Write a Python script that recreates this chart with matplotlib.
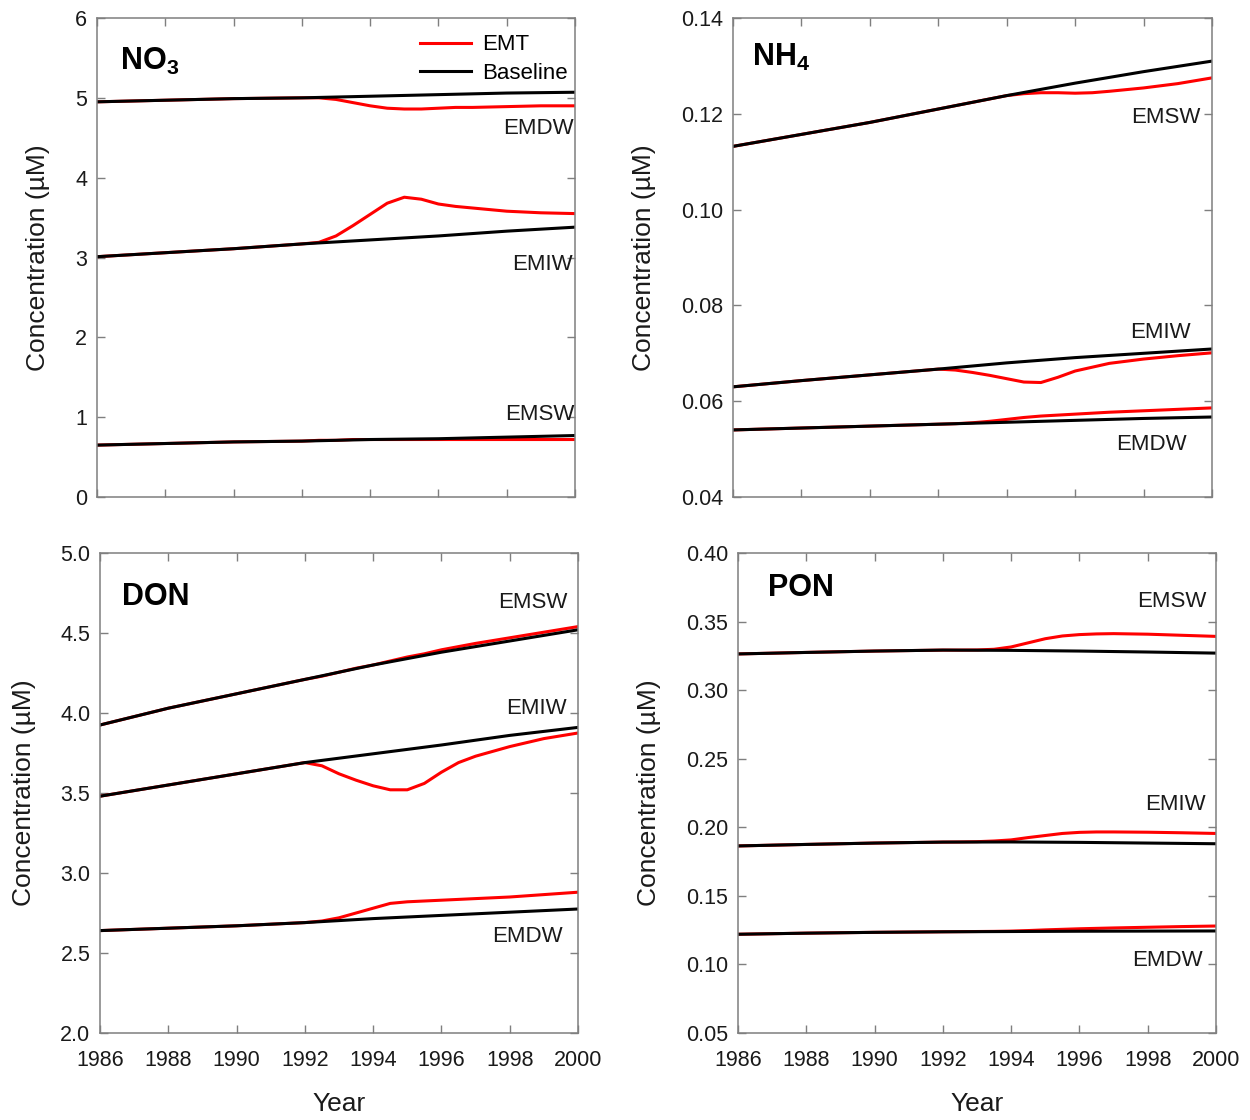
import matplotlib
matplotlib.use("Agg")
import matplotlib.pyplot as plt

plt.rcParams['font.family'] = ['Liberation Sans', 'DejaVu Sans']
plt.rcParams['mathtext.fontset'] = 'custom'
plt.rcParams['mathtext.rm'] = 'Liberation Sans'
plt.rcParams['mathtext.bf'] = 'Liberation Sans:bold'

# time axes: baseline runs sampled every 2 years, EMT runs denser around the event
yr_base = [1986, 1988, 1990, 1992, 1994, 1996, 1998, 2000]
yr_emt = [1986, 1988, 1990, 1992, 1992.5, 1993, 1993.5, 1994, 1994.5,
          1995, 1995.5, 1996, 1996.5, 1997, 1998, 1999, 2000]
water_masses = ['EMSW', 'EMIW', 'EMDW']

# NO3 (uM)
no3_base = {
    'EMSW': [0.65, 0.67, 0.69, 0.70, 0.72, 0.73, 0.75, 0.77],
    'EMIW': [3.01, 3.06, 3.11, 3.17, 3.22, 3.27, 3.33, 3.38],
    'EMDW': [4.95, 4.97, 4.99, 5.00, 5.02, 5.04, 5.06, 5.07],
}
no3_emt = {
    'EMSW': [0.65, 0.67, 0.69, 0.70, 0.71, 0.71, 0.72, 0.72, 0.72,
             0.72, 0.72, 0.72, 0.72, 0.72, 0.72, 0.72, 0.72],
    'EMIW': [3.01, 3.06, 3.11, 3.17, 3.19, 3.27, 3.40, 3.54, 3.68,
             3.755, 3.73, 3.67, 3.64, 3.62, 3.58, 3.56, 3.55],
    'EMDW': [4.95, 4.97, 4.99, 5.00, 5.00, 4.98, 4.94, 4.90, 4.87,
             4.86, 4.86, 4.87, 4.88, 4.88, 4.89, 4.90, 4.90],
}

# NH4 (uM)
nh4_base = {
    'EMSW': [0.1132, 0.1157, 0.1182, 0.1210, 0.1238, 0.1264, 0.1288, 0.1310],
    'EMIW': [0.0630, 0.0643, 0.0655, 0.0667, 0.0680, 0.0691, 0.0700, 0.0709],
    'EMDW': [0.0540, 0.0544, 0.0548, 0.0552, 0.0556, 0.0560, 0.0564, 0.0567],
}
nh4_emt = {
    'EMSW': [0.1132, 0.1157, 0.1182, 0.1210, 0.1217, 0.1224, 0.1231, 0.1238, 0.1242,
             0.1244, 0.1244, 0.1243, 0.1244, 0.1247, 0.1254, 0.1263, 0.1275],
    'EMIW': [0.0630, 0.0643, 0.0655, 0.0667, 0.0665, 0.0660, 0.0654, 0.0647, 0.0640,
             0.0639, 0.0650, 0.0663, 0.0671, 0.0679, 0.0688, 0.0695, 0.0701],
    'EMDW': [0.0540, 0.0544, 0.0548, 0.0552, 0.0553, 0.0555, 0.0558, 0.0562, 0.0566,
             0.0569, 0.0571, 0.0573, 0.0575, 0.0577, 0.0580, 0.0583, 0.0586],
}

# DON (uM)
don_base = {
    'EMSW': [3.925, 4.03, 4.12, 4.21, 4.30, 4.38, 4.45, 4.52],
    'EMIW': [3.48, 3.55, 3.62, 3.69, 3.745, 3.80, 3.86, 3.91],
    'EMDW': [2.64, 2.655, 2.67, 2.69, 2.715, 2.735, 2.755, 2.775],
}
don_emt = {
    'EMSW': [3.925, 4.03, 4.12, 4.21, 4.23, 4.255, 4.28, 4.30, 4.325,
             4.35, 4.37, 4.395, 4.415, 4.435, 4.47, 4.505, 4.54],
    'EMIW': [3.48, 3.55, 3.62, 3.69, 3.67, 3.62, 3.58, 3.545, 3.52,
             3.52, 3.56, 3.63, 3.69, 3.73, 3.79, 3.84, 3.875],
    'EMDW': [2.64, 2.655, 2.67, 2.69, 2.70, 2.72, 2.75, 2.78, 2.81,
             2.82, 2.825, 2.83, 2.835, 2.84, 2.85, 2.865, 2.88],
}

# PON (uM)
pon_base = {
    'EMSW': [0.3264, 0.3275, 0.3285, 0.3292, 0.3290, 0.3285, 0.3278, 0.3270],
    'EMIW': [0.1864, 0.1875, 0.1885, 0.1892, 0.1893, 0.1890, 0.1885, 0.1880],
    'EMDW': [0.1220, 0.1228, 0.1234, 0.1238, 0.1240, 0.1242, 0.1243, 0.1244],
}
pon_emt = {
    'EMSW': [0.3264, 0.3275, 0.3285, 0.3292, 0.3292, 0.3293, 0.3298, 0.3315, 0.3345,
             0.3375, 0.3395, 0.3405, 0.3410, 0.3412, 0.3408, 0.3400, 0.3392],
    'EMIW': [0.1864, 0.1875, 0.1885, 0.1892, 0.1893, 0.1895, 0.1900, 0.1908, 0.1925,
             0.1940, 0.1955, 0.1963, 0.1966, 0.1966, 0.1964, 0.1960, 0.1955],
    'EMDW': [0.1220, 0.1228, 0.1234, 0.1238, 0.1239, 0.1240, 0.1241, 0.1243, 0.1247,
             0.1252, 0.1256, 0.1260, 0.1263, 0.1266, 0.1271, 0.1276, 0.1280],
}

x_ticks = list(range(1986, 2001, 2))
no3_ticks = [0, 1, 2, 3, 4, 5, 6]
nh4_ticks = [0.04, 0.06, 0.08, 0.10, 0.12, 0.14]
don_ticks = [2.0, 2.5, 3.0, 3.5, 4.0, 4.5, 5.0]
pon_ticks = [0.05, 0.10, 0.15, 0.20, 0.25, 0.30, 0.35, 0.40]

# label spots for each water mass: (x in axes fraction, y in data units)
no3_lbl = {'EMSW': (0.998, 1.03), 'EMIW': (0.995, 2.91), 'EMDW': (0.998, 4.62)}
nh4_lbl = {'EMSW': (0.975, 0.1193), 'EMIW': (0.955, 0.0744), 'EMDW': (0.948, 0.0509)}
don_lbl = {'EMSW': (0.979, 4.69), 'EMIW': (0.977, 4.03), 'EMDW': (0.969, 2.60)}
pon_lbl = {'EMSW': (0.981, 0.3644), 'EMIW': (0.979, 0.2163), 'EMDW': (0.973, 0.1032)}

fig = plt.figure(figsize=(12.5, 11.2), dpi=100)
W, H = 1250, 1120


def make_axes(left, right, top, bottom):
    return fig.add_axes([left / W, 1 - bottom / H, (right - left) / W, (bottom - top) / H])


def draw_panel(ax, base, emt, ticks, fmt, lbl, title, title_pos, ylab_x, bottom_row):
    for wm in water_masses:
        ax.plot(yr_emt, emt[wm], color='red', lw=2.2, label='EMT' if wm == 'EMSW' else None)
        ax.plot(yr_base, base[wm], color='black', lw=2.2,
                label='Baseline' if wm == 'EMSW' else None)
        lx, ly = lbl[wm]
        ax.text(lx, ly, wm, transform=ax.get_yaxis_transform(), ha='right', va='center',
                fontsize=16, color='#1a1a1a')
    ax.set_xlim(1986, 2000)
    ax.set_ylim(ticks[0], ticks[-1])
    ax.set_xticks(x_ticks)
    ax.set_yticks(ticks)
    ax.set_yticklabels([fmt.format(t) for t in ticks])
    for s in ax.spines.values():
        s.set_color('#7f7f7f')
        s.set_linewidth(1.1)
    ax.tick_params(direction='in', top=True, right=True, length=6, width=1,
                   color='#7f7f7f', labelsize=15.5, labelcolor='#1a1a1a')
    ax.tick_params(axis='y', pad=7)
    ax.tick_params(axis='x', pad=12)
    if bottom_row:
        ax.set_xlabel('Year', fontsize=19, color='#1a1a1a')
        ax.xaxis.set_label_coords(0.5, -0.122)
    else:
        ax.set_xticklabels([])
    ax.set_ylabel('Concentration (\u00b5M)', fontsize=19, color='#1a1a1a')
    ax.yaxis.set_label_coords(ylab_x, 0.5)
    ax.text(title_pos[0], title_pos[1], title, transform=ax.transAxes, fontsize=22,
            fontweight='bold', va='baseline', ha='left')


ax1 = make_axes(97, 575, 18, 497)
ax2 = make_axes(733, 1212, 18, 497)
ax3 = make_axes(100, 578, 553, 1033)
ax4 = make_axes(738, 1216, 553, 1033)

draw_panel(ax1, no3_base, no3_emt, no3_ticks, '{:.0f}', no3_lbl,
           r'NO$_\mathbf{3}$', (0.048, 0.891), -0.098, False)
draw_panel(ax2, nh4_base, nh4_emt, nh4_ticks, '{:.2f}', nh4_lbl,
           r'NH$_\mathbf{4}$', (0.040, 0.90), -0.161, False)
draw_panel(ax3, don_base, don_emt, don_ticks, '{:.1f}', don_lbl,
           'DON', (0.046, 0.892), -0.134, True)
draw_panel(ax4, pon_base, pon_emt, pon_ticks, '{:.2f}', pon_lbl,
           'PON', (0.063, 0.91), -0.161, True)

ax1.legend(loc='upper right', bbox_to_anchor=(0.985, 0.966), frameon=False,
           fontsize=16, handlelength=2.3, handletextpad=0.5, labelspacing=0.35,
           borderaxespad=0, borderpad=0)

fig.savefig('out.png', dpi=100)
